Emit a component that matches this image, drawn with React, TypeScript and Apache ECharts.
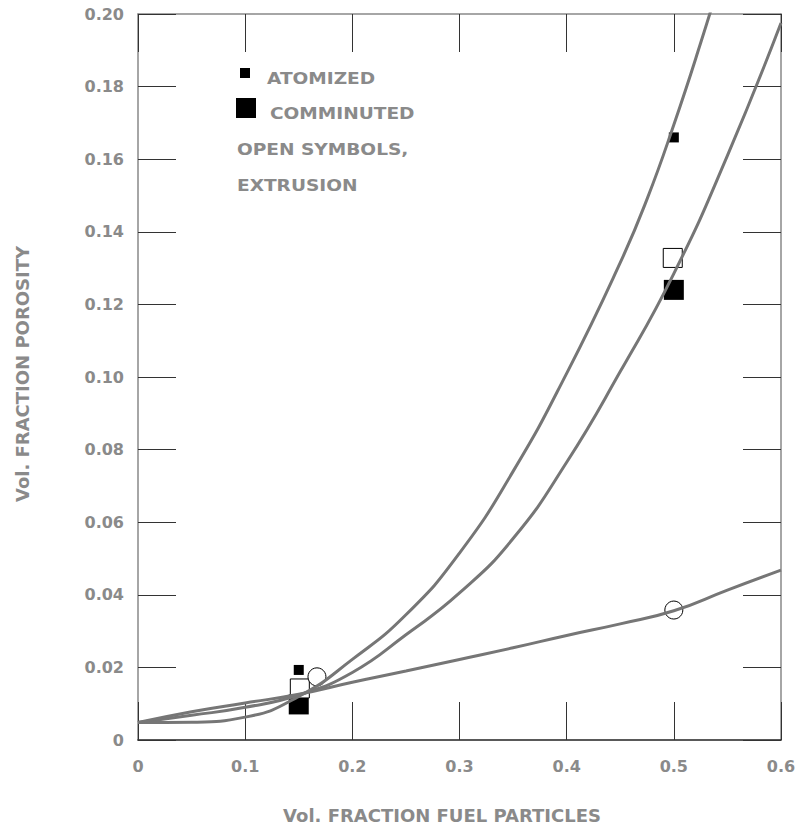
import React, { useEffect, useRef } from 'react';
import * as echarts from 'echarts';

// Tick labels
const yTickLabels = ['0', '0.02', '0.04', '0.06', '0.08', '0.10', '0.12', '0.14', '0.16', '0.18', '0.20'];
const xTickLabels = ['0', '0.1', '0.2', '0.3', '0.4', '0.5', '0.6'];

// Fitted curves
const curveAx = [0, 0.05, 0.1, 0.15, 0.2, 0.25, 0.3, 0.35, 0.4, 0.45, 0.475, 0.5, 0.525, 0.55];
const curveAy = [0.0048, 0.0049, 0.0063, 0.012, 0.0222, 0.0345, 0.0515, 0.074, 0.101, 0.1315, 0.149, 0.1695, 0.192, 0.216];
const curveBx = [0, 0.05, 0.1, 0.15, 0.2, 0.25, 0.3, 0.35, 0.4, 0.45, 0.5, 0.55, 0.6];
const curveBy = [0.0048, 0.0068, 0.009, 0.0124, 0.0186, 0.029, 0.0405, 0.0555, 0.0765, 0.1015, 0.1285, 0.161, 0.1975];
const curveCx = [0, 0.05, 0.1, 0.15, 0.2, 0.25, 0.3, 0.35, 0.4, 0.45, 0.5, 0.55, 0.6];
const curveCy = [0.0048, 0.0078, 0.0102, 0.0126, 0.0159, 0.019, 0.0222, 0.0254, 0.0288, 0.032, 0.0356, 0.0413, 0.0468];

// Data points
const atomizedX = [0.15, 0.5];
const atomizedY = [0.0193, 0.166];
const comminutedX = [0.15, 0.5];
const comminutedY = [0.0098, 0.124];
const openSquareX = [0.151, 0.499];
const openSquareY = [0.0142, 0.1328];
const openCircleX = [0.167, 0.5];
const openCircleY = [0.0174, 0.0358];

// Legend / annotation texts
const legendTexts = ['ATOMIZED', 'COMMINUTED', 'OPEN SYMBOLS,', 'EXTRUSION'];
const xAxisName = 'Vol. FRACTION FUEL PARTICLES';
const yAxisName = 'Vol. FRACTION POROSITY';

const zip = (xs: number[], ys: number[]) => xs.map((x, i) => [x, ys[i]]);

const TEXT_GRAY = '#8a8a8a';
const LINE_GRAY = '#767676';
const FONT = '"DejaVu Sans", "Liberation Sans", sans-serif';

export default function App() {
  const ref = useRef<HTMLDivElement>(null);
  useEffect(() => {
    if (!ref.current) return;
    const chart = echarts.init(ref.current, null, { renderer: 'svg' });
    const tickStyle = { show: true, inside: true, length: 38, lineStyle: { color: '#333', width: 1 } };
    const labelStyle = { color: TEXT_GRAY, fontWeight: 'bold' as const, fontSize: 16, fontFamily: FONT };
    const lineSeries = (xs: number[], ys: number[]) => ({
      type: 'line',
      data: zip(xs, ys),
      showSymbol: false,
      smooth: 0.5,
      lineStyle: { color: LINE_GRAY, width: 3 },
      clip: true,
      silent: true,
    });
    const axisLine = (color: string) => ({ show: true, onZero: false, lineStyle: { color, width: 1.5 } });
    chart.setOption({
      animation: false,
      backgroundColor: '#ffffff',
      grid: { left: 138, right: 19, top: 14, bottom: 91, containLabel: false },
      xAxis: [
        {
          type: 'value', min: 0, max: 0.6, interval: 0.1, position: 'bottom',
          axisLine: axisLine('#222'),
          axisTick: tickStyle,
          splitLine: { show: false },
          axisLabel: { ...labelStyle, margin: 18, formatter: (_v: number, i: number) => xTickLabels[i] },
        },
        {
          type: 'value', min: 0, max: 0.6, interval: 0.1, position: 'top',
          axisLine: axisLine('#888'),
          axisTick: tickStyle,
          splitLine: { show: false },
          axisLabel: { show: false },
        },
      ],
      yAxis: [
        {
          type: 'value', min: 0, max: 0.2, interval: 0.02, position: 'left',
          axisLine: axisLine('#888'),
          axisTick: tickStyle,
          splitLine: { show: false },
          axisLabel: { ...labelStyle, margin: 14, formatter: (_v: number, i: number) => yTickLabels[i] },
        },
        {
          type: 'value', min: 0, max: 0.2, interval: 0.02, position: 'right',
          axisLine: axisLine('#888'),
          axisTick: tickStyle,
          splitLine: { show: false },
          axisLabel: { show: false },
        },
      ],
      series: [
        {
          type: 'scatter', data: zip(comminutedX, comminutedY), symbol: 'rect', symbolSize: 20,
          itemStyle: { color: '#000', opacity: 1 },
        },
        lineSeries(curveAx, curveAy),
        lineSeries(curveBx, curveBy),
        lineSeries(curveCx, curveCy),
        {
          type: 'scatter', data: zip(openSquareX, openSquareY), symbol: 'rect', symbolSize: 19,
          itemStyle: { color: '#fff', borderColor: '#000', borderWidth: 1, opacity: 1 },
        },
        {
          type: 'scatter', data: zip(openCircleX, openCircleY), symbol: 'circle', symbolSize: 18,
          itemStyle: { color: '#fff', borderColor: '#000', borderWidth: 1, opacity: 1 },
        },
        {
          type: 'scatter', data: zip(atomizedX, atomizedY), symbol: 'rect', symbolSize: 10,
          itemStyle: { color: '#000', opacity: 1 },
        },
      ],
      graphic: [
        { type: 'rect', shape: { x: 240, y: 68, width: 10, height: 10 }, style: { fill: '#000' } },
        { type: 'rect', shape: { x: 236, y: 98, width: 20, height: 20 }, style: { fill: '#000' } },
        ...legendTexts.map((t, i) => ({
          type: 'text',
          x: i < 2 ? [267, 270][i] : 237,
          y: [78, 113, 149, 185][i],
          scaleX: 1.16,
          style: {
            text: t, fill: TEXT_GRAY, font: `bold 16px ${FONT}`,
            textAlign: 'left', textVerticalAlign: 'middle',
          },
        })),
        {
          type: 'text', x: 442, y: 815,
          style: {
            text: xAxisName, fill: TEXT_GRAY, font: `bold 18px ${FONT}`,
            textAlign: 'center', textVerticalAlign: 'middle',
          },
        },
        {
          type: 'text', x: 22, y: 374, rotation: Math.PI / 2,
          style: {
            text: yAxisName, fill: TEXT_GRAY, font: `bold 18px ${FONT}`,
            textAlign: 'center', textVerticalAlign: 'middle',
          },
        },
      ],
    });
    return () => chart.dispose();
  }, []);
  return <div ref={ref} style={{ position: 'fixed', left: 0, top: 0, width: 800, height: 831 }} />;
}
